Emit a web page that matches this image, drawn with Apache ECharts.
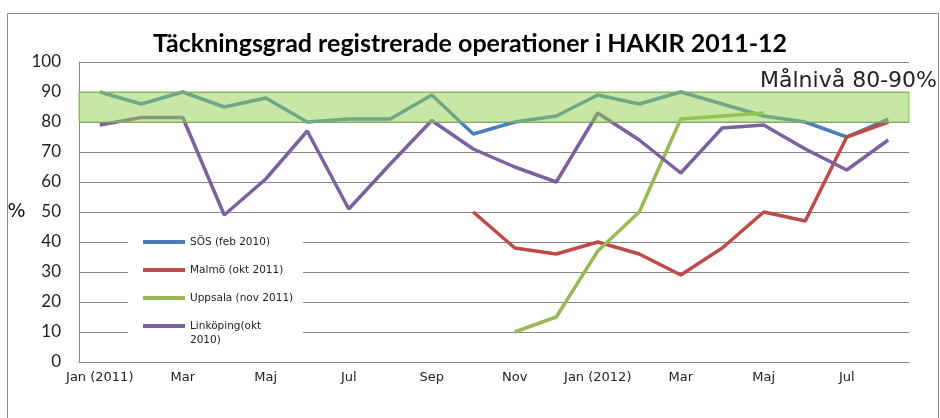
<!DOCTYPE html>
<html>
<head>
<meta charset="utf-8">
<script src="https://cdn.jsdelivr.net/npm/echarts@6/dist/echarts.min.js"></script>
<style>html,body{margin:0;padding:0;background:#fff;}#c{width:940px;height:418px;}</style>
</head>
<body>
<div id="c"></div>
<script>
// Months Jan 2011 .. Aug 2012
const months = ['2011-01','2011-02','2011-03','2011-04','2011-05','2011-06','2011-07','2011-08','2011-09','2011-10','2011-11','2011-12',
                '2012-01','2012-02','2012-03','2012-04','2012-05','2012-06','2012-07','2012-08'];
const tickLabels = ['Jan (2011)','Feb','Mar','Apr','Maj','Jun','Jul','Aug','Sep','Okt','Nov','Dec',
                    'Jan (2012)','Feb','Mar','Apr','Maj','Jun','Jul','Aug'];
const yTicks = [0,10,20,30,40,50,60,70,80,90,100];

const sos       = [90, 86, 90, 85, 88, 80, 81, 81, 89, 76, 80, 82, 89, 86, 90, 86, 82, 80, 75, 81];
const malmo     = [null,null,null,null,null,null,null,null,null, 50, 38, 36, 40, 36, 29, 38, 50, 47, 75, 80];
const uppsala   = [null,null,null,null,null,null,null,null,null,null, 10, 15, 37, 50, 81, 82, 83, null, null, null];
const linkoping = [79, 81.5, 81.5, 49, 61, 77, 51, 66, 80.5, 71, 65, 60, 83, 74, 63, 78, 79, 71, 64, 74];

const seriesNames = ['SÖS (feb 2010)','Malmö (okt 2011)','Uppsala (nov 2011)','Linköping(okt 2010)'];
const seriesData = [sos, malmo, uppsala, linkoping];
const seriesColors = ['#4a7ebb','#be4b48','#98b954','#7d60a0'];
const targetBand = [80, 90];

const chart = echarts.init(document.getElementById('c'), null, {renderer:'canvas'});

const series = seriesNames.map((n, i) => ({
  name: n,
  type: 'line',
  data: seriesData[i],
  showSymbol: false,
  symbol: 'none',
  connectNulls: false,
  lineStyle: {width: 3.5, color: seriesColors[i]},
  itemStyle: {color: seriesColors[i]},
  z: 2 + i
}));
series[3].markArea = {
  z: 20,
  silent: true,
  itemStyle: {color: 'rgba(146,208,80,0.5)', borderColor: '#8cc05a', borderWidth: 1},
  data: [[{yAxis: targetBand[0]}, {yAxis: targetBand[1]}]]
};

const option = {
  backgroundColor: '#fff',
  animation: false,
  title: [
    {text: 'Täckningsgrad registrerade operationer i HAKIR 2011-12', left: 'center', top: 31, padding: 0,
     textStyle: {fontFamily: 'Lato', fontWeight: 'bold', fontSize: 25, color: '#000'}},
    {text: 'Målnivå 80-90%', right: 3, top: 70, padding: 0,
     textStyle: {fontFamily: 'DejaVu Sans', fontWeight: 'normal', fontSize: 22, color: '#222'}}
  ],
  graphic: [{type: 'rect', silent: true, z: -1,
    shape: {x: 7.5, y: 13.5, width: 931, height: 430},
    style: {fill: 'none', stroke: '#8a8a8a', lineWidth: 1}}],
  grid: {left: 79, right: 31, top: 62, bottom: 56, containLabel: false},
  legend: {
    orient: 'vertical', left: 128, top: 221, padding: [0, 10, 0, 15],
    backgroundColor: '#fff', z: 10,
    icon: 'rect', itemWidth: 42, itemHeight: 4, itemGap: -14,
    textStyle: {fontFamily: 'DejaVu Sans', fontSize: 10.5, color: '#222', lineHeight: 42},
    data: [
      {name: seriesNames[0]},
      {name: seriesNames[1]},
      {name: seriesNames[2]},
      {name: seriesNames[3], textStyle: {lineHeight: 14}}
    ],
    formatter: function (name) { return name === 'Linköping(okt 2010)' ? ' \nLinköping(okt\n2010)' : name; }
  },
  xAxis: {
    type: 'category', data: months, boundaryGap: true,
    axisLine: {show: true, lineStyle: {color: '#868686', width: 1}},
    axisTick: {show: false},
    axisLabel: {interval: 1, margin: 9, fontFamily: 'DejaVu Sans', fontSize: 13, color: '#222',
      formatter: function (v, i) { return tickLabels[i]; }},
    splitLine: {show: false}
  },
  yAxis: {
    type: 'value', min: yTicks[0], max: yTicks[yTicks.length - 1], interval: 10,
    name: '%', nameLocation: 'middle', nameRotate: 0, nameGap: 46,
    nameTextStyle: {fontFamily: 'DejaVu Sans', fontSize: 19, color: '#111', padding: [8, 0, 0, 0]},
    axisLine: {show: true, lineStyle: {color: '#868686', width: 1}},
    axisTick: {show: false},
    axisLabel: {margin: 18, fontFamily: 'Lato', fontSize: 17, color: '#222'},
    splitLine: {show: true, lineStyle: {color: '#868686', width: 1}}
  },
  series: series
};
chart.setOption(option);
</script>
</body>
</html>
